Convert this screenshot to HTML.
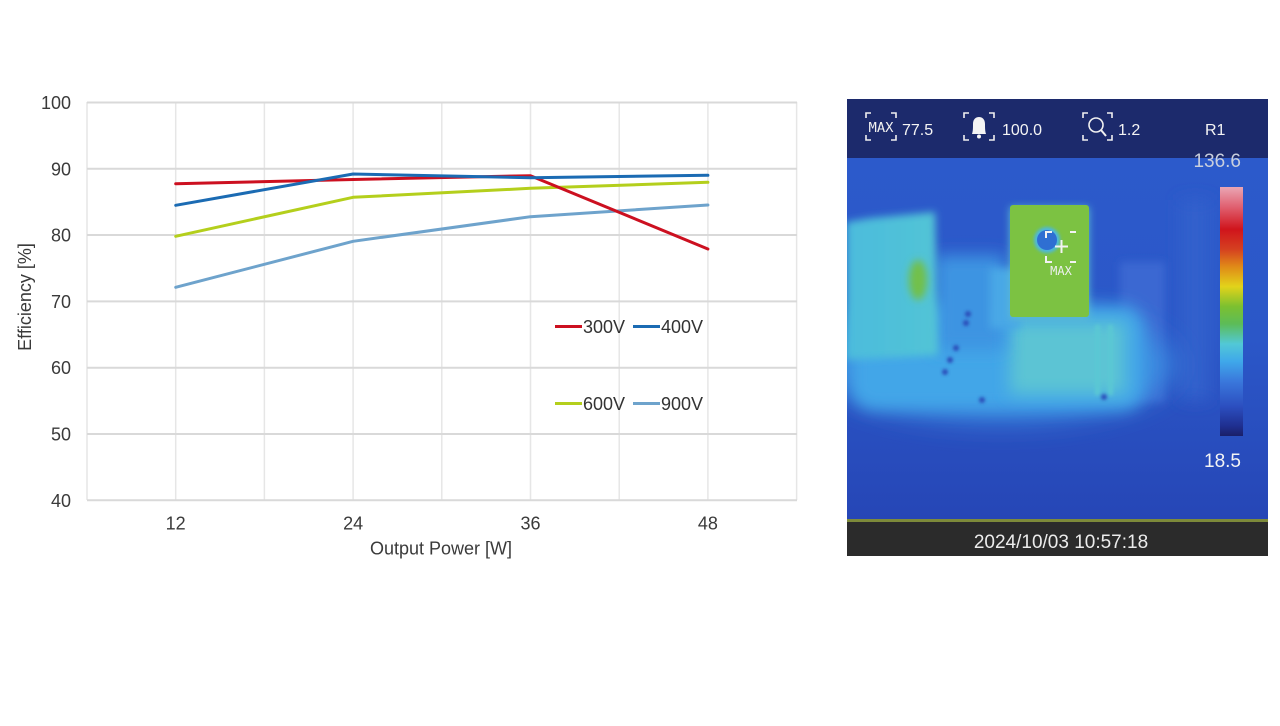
<!DOCTYPE html>
<html><head><meta charset="utf-8"><style>
html,body{margin:0;padding:0;background:#fff;}
svg{display:block;}
</style></head><body>
<svg width="1280" height="726" viewBox="0 0 1280 726" xmlns="http://www.w3.org/2000/svg">
<defs>
<filter id="b8" x="-50%" y="-50%" width="200%" height="200%"><feGaussianBlur stdDeviation="8"/></filter>
<filter id="b4" x="-50%" y="-50%" width="200%" height="200%"><feGaussianBlur stdDeviation="4"/></filter>
<filter id="b2" x="-50%" y="-50%" width="200%" height="200%"><feGaussianBlur stdDeviation="1.5"/></filter>
<filter id="b14" x="-50%" y="-50%" width="200%" height="200%"><feGaussianBlur stdDeviation="14"/></filter>
<linearGradient id="cb" x1="0" y1="0" x2="0" y2="1">
<stop offset="0" stop-color="#eaa6b4"/>
<stop offset="0.08" stop-color="#e06070"/>
<stop offset="0.17" stop-color="#d0141c"/>
<stop offset="0.25" stop-color="#d54020"/>
<stop offset="0.32" stop-color="#e08a18"/>
<stop offset="0.40" stop-color="#e2d31a"/>
<stop offset="0.48" stop-color="#7cc030"/>
<stop offset="0.55" stop-color="#5cbc58"/>
<stop offset="0.63" stop-color="#52c8d6"/>
<stop offset="0.70" stop-color="#3fa8ea"/>
<stop offset="0.78" stop-color="#3a78dc"/>
<stop offset="0.88" stop-color="#2c4fc0"/>
<stop offset="0.96" stop-color="#1f2f90"/>
<stop offset="1" stop-color="#1a1f68"/>
</linearGradient>
<linearGradient id="bg" x1="0" y1="0" x2="0" y2="1">
<stop offset="0" stop-color="#2c5acb"/>
<stop offset="0.5" stop-color="#2b57c8"/>
<stop offset="1" stop-color="#2646b6"/>
</linearGradient>
<linearGradient id="lb" x1="0" y1="0" x2="1" y2="0">
<stop offset="0" stop-color="#4cbcdc"/>
<stop offset="1" stop-color="#52c4d6"/>
</linearGradient>
</defs>

<!-- ===== CHART ===== -->
<g stroke="#e6e6e6" stroke-width="1.5">
<line x1="175.7" y1="102" x2="175.7" y2="500"/>
<line x1="264.4" y1="102" x2="264.4" y2="500"/>
<line x1="353.1" y1="102" x2="353.1" y2="500"/>
<line x1="441.8" y1="102" x2="441.8" y2="500"/>
<line x1="530.5" y1="102" x2="530.5" y2="500"/>
<line x1="619.2" y1="102" x2="619.2" y2="500"/>
<line x1="707.9" y1="102" x2="707.9" y2="500"/>
<line x1="796.6" y1="102" x2="796.6" y2="500"/>
<line x1="87" y1="102" x2="87" y2="500"/>
</g>
<g stroke="#d9d9d9" stroke-width="2">
<line x1="87" y1="102.5" x2="797" y2="102.5"/>
<line x1="87" y1="168.8" x2="797" y2="168.8"/>
<line x1="87" y1="235" x2="797" y2="235"/>
<line x1="87" y1="301.4" x2="797" y2="301.4"/>
<line x1="87" y1="367.7" x2="797" y2="367.7"/>
<line x1="87" y1="434" x2="797" y2="434"/>
<line x1="87" y1="500.3" x2="797" y2="500.3"/>
</g>
<g font-family="Liberation Sans, Arial, sans-serif" font-size="18" fill="#3a3a3a" text-anchor="end">
<text x="71" y="109">100</text>
<text x="71" y="175.3">90</text>
<text x="71" y="241.5">80</text>
<text x="71" y="307.9">70</text>
<text x="71" y="374.2">60</text>
<text x="71" y="440.5">50</text>
<text x="71" y="506.8">40</text>
</g>
<g font-family="Liberation Sans, Arial, sans-serif" font-size="18" fill="#3a3a3a" text-anchor="middle">
<text x="175.7" y="529.5">12</text>
<text x="353.1" y="529.5">24</text>
<text x="530.5" y="529.5">36</text>
<text x="707.9" y="529.5">48</text>
<text x="441" y="554.5">Output Power [W]</text>
<text transform="translate(31,297) rotate(-90)">Efficiency [%]</text>
</g>
<g fill="none" stroke-width="3" stroke-linejoin="round" stroke-linecap="round">
<polyline stroke="#6ea3cc" points="175.7,287.3 353.1,241.3 530.5,216.7 707.9,205"/>
<polyline stroke="#b4cf1c" points="175.7,236.3 353.1,197.3 530.5,188.3 707.9,182.3"/>
<polyline stroke="#cc1020" points="175.7,183.7 353.1,179.5 530.5,175.7 707.9,249"/>
<polyline stroke="#1b6bb3" points="175.7,205.3 353.1,174 530.5,177.7 707.9,175.3"/>
</g>
<!-- legend -->
<g stroke-width="3">
<line x1="555" y1="326.5" x2="582" y2="326.5" stroke="#cc1020"/>
<line x1="633" y1="326.5" x2="660" y2="326.5" stroke="#1b6bb3"/>
<line x1="555" y1="403.5" x2="582" y2="403.5" stroke="#b4cf1c"/>
<line x1="633" y1="403.5" x2="660" y2="403.5" stroke="#6ea3cc"/>
</g>
<g font-family="Liberation Sans, Arial, sans-serif" font-size="18" fill="#333">
<text x="583" y="333">300V</text>
<text x="661" y="333">400V</text>
<text x="583" y="410">600V</text>
<text x="661" y="410">900V</text>
</g>

<!-- ===== THERMAL IMAGE ===== -->
<clipPath id="tc"><rect x="847" y="158" width="421" height="363"/></clipPath>
<rect x="847" y="158" width="421" height="363" fill="url(#bg)"/>
<g clip-path="url(#tc)">
<!-- right side faint structures -->
<rect x="1120" y="262" width="45" height="140" fill="#3a68d2" filter="url(#b4)"/>
<rect x="1180" y="200" width="30" height="200" fill="#3160cc" filter="url(#b8)"/>
<!-- lower glow -->
<ellipse cx="1000" cy="365" rx="175" ry="55" fill="#3a8ae0" filter="url(#b14)"/>
<rect x="850" y="305" width="295" height="105" rx="24" fill="#42a6e8" filter="url(#b8)"/>
<rect x="1010" y="322" width="115" height="72" fill="#5cc4d4" filter="url(#b8)"/>
<rect x="935" y="255" width="70" height="95" fill="#3d94e2" filter="url(#b8)"/>
<rect x="990" y="268" width="30" height="60" fill="#4aa8e6" filter="url(#b4)"/>
<!-- vertical bars -->
<rect x="1095" y="325" width="5" height="70" fill="#5ac8d4" filter="url(#b2)"/>
<rect x="1108" y="325" width="5" height="70" fill="#5ac8d4" filter="url(#b2)"/>
<!-- left block -->
<path d="M846,222 L870,218 L935,212 L938,355 L846,360 Z" fill="url(#lb)" filter="url(#b4)"/>
<ellipse cx="918" cy="280" rx="9" ry="20" fill="#72c048" filter="url(#b4)"/>
<!-- dark dots -->
<g fill="#2a4cb8" filter="url(#b2)">
<circle cx="968" cy="314" r="3"/><circle cx="966" cy="323" r="3"/>
<circle cx="956" cy="348" r="3"/><circle cx="950" cy="360" r="3"/><circle cx="945" cy="372" r="3"/>
<circle cx="982" cy="400" r="3"/><circle cx="1104" cy="397" r="3"/>
</g>
<!-- green component -->
<rect x="1010" y="207" width="79" height="112" fill="#5cbcd0" filter="url(#b4)"/>
<rect x="1010" y="205" width="79" height="112" rx="3" fill="#7cc242"/>
<circle cx="1047" cy="240" r="13" fill="#4cb8e0" filter="url(#b2)"/>
<circle cx="1047" cy="240" r="10" fill="#2f6fd2"/>
<!-- crosshair -->
<g stroke="#f2f2f2" stroke-width="2" fill="none">
<path d="M1046,238 V232 H1052"/>
<path d="M1070,232 H1076"/>
<path d="M1046,256 V262 H1052"/>
<path d="M1070,262 H1076"/>
<path d="M1061.5,240 V253 M1055,246.5 H1068"/>
</g>
<text x="1061" y="275" font-family="DejaVu Sans Mono, Liberation Mono, monospace" font-size="12" fill="#eef0f0" text-anchor="middle">MAX</text>
<!-- colorbar -->
<rect x="1220" y="187" width="23" height="249" fill="url(#cb)"/>
</g>
<text x="1241" y="467" font-family="Liberation Sans, Arial, sans-serif" font-size="19" fill="#f4f4f4" text-anchor="end">18.5</text>
<!-- header -->
<rect x="847" y="99" width="421" height="59" fill="#1c2a6c"/>
<text x="1241" y="167" font-family="Liberation Sans, Arial, sans-serif" font-size="19" fill="#c9cfdd" text-anchor="end">136.6</text>
<g stroke="#f0f0f0" stroke-width="1.6" fill="none">
<path d="M866,118 V113 H871 M891,113 H896 V118 M866,135 V140 H871 M891,140 H896 V135"/>
<path d="M964,118 V113 H969 M989,113 H994 V118 M964,135 V140 H969 M989,140 H994 V135"/>
<path d="M1083,118 V113 H1088 M1107,113 H1112 V118 M1083,135 V140 H1088 M1107,140 H1112 V135"/>
<circle cx="1096" cy="125" r="7"/>
<path d="M1101,130 L1106,136" stroke-width="2"/>
</g>
<path d="M972,134 C973,131 973,128 973,124 C973,119 976,117 979,117 C982,117 985,119 985,124 C985,128 985,131 986,134 Z" fill="#f4f4f4"/>
<circle cx="979" cy="136.5" r="2" fill="#f4f4f4"/>
<text x="881" y="132" font-family="DejaVu Sans Mono, Liberation Mono, monospace" font-size="13" fill="#f0f0f0" text-anchor="middle" textLength="25" lengthAdjust="spacingAndGlyphs">MAX</text>
<g font-family="Liberation Sans, Arial, sans-serif" font-size="16" fill="#f4f4f4">
<text x="902" y="135">77.5</text>
<text x="1002" y="135">100.0</text>
<text x="1118" y="135">1.2</text>
<text x="1205" y="135">R1</text>
</g>
<!-- footer -->
<rect x="847" y="519" width="421" height="3" fill="#7d8a3a"/>
<rect x="847" y="522" width="421" height="34" fill="#2b2b2b"/>
<text x="1061" y="548" font-family="Liberation Sans, Arial, sans-serif" font-size="19" fill="#ececec" text-anchor="middle">2024/10/03 10:57:18</text>
</svg>
</body></html>
